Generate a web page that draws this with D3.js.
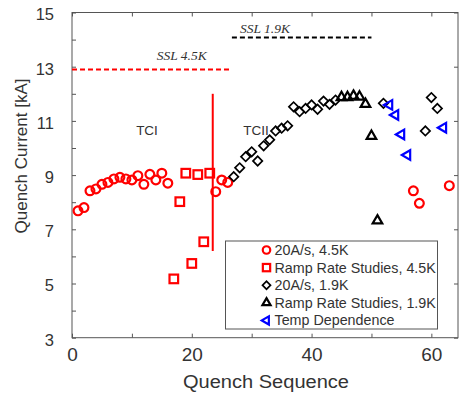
<!DOCTYPE html>
<html><head><meta charset="utf-8">
<script src="https://cdn.jsdelivr.net/npm/d3@7"></script>
<style>body{margin:0;background:#fff}svg{display:block}</style>
</head><body>
<script>
// ---- data ----
const circ45X = [1,2,3,4,5,6,7,8,9,10,11,12,13,14,15,16,24,25,26,57,58,63];
const circ45Y = [7.68,7.8,8.42,8.49,8.66,8.73,8.86,8.92,8.86,8.82,8.98,8.66,9.03,8.82,9.07,8.70,8.39,8.82,8.73,8.42,7.96,8.61];
const ramp45X = [17,18,19,20,21,22,23];
const ramp45Y = [5.17,8.02,9.07,5.74,9.02,6.54,9.07];
const diam19X = [27,28,29,30,31,32,33,34,35,36,37,38,39,40,41,42,43,44,52,59,60,61];
const diam19Y = [8.94,9.27,9.68,9.86,9.52,10.08,10.30,10.63,10.73,10.82,11.52,11.34,11.46,11.59,11.43,11.73,11.61,11.77,11.65,10.63,11.86,11.46];
const ramp19X = [45,46,47,48,49,50,51];
const ramp19Y = [11.87,11.87,11.92,11.89,11.62,10.44,7.32];
const tempX = [53,54,55,56,62];
const tempY = [11.59,11.22,10.5,9.74,10.75];
const ssl45 = {x0:0, x1:26.5, y:12.9, label:"SSL 4.5K"};
const ssl19 = {x0:26.7, x1:50, y:14.08, label:"SSL 1.9K"};
const divider = {x:23.5, y0:6.2, y1:12.0};
const xTicks = [0,10,20,30,40,50,60];
const xLabels = [0,20,40,60];
const yTicks = [3,4,5,6,7,8,9,10,11,12,13,14,15];
const yLabels = [3,5,7,9,11,13,15];
const legendNames = ["20A/s, 4.5K","Ramp Rate Studies, 4.5K","20A/s, 1.9K","Ramp Rate Studies, 1.9K","Temp Dependence"];

const W=459,H=394;
const L=72,R=458,T=12.5,B=337.7;
const svg=d3.select("body").append("svg").attr("width",W).attr("height",H);
const x=d3.scaleLinear().domain([0,64.45]).range([L,R]);
const y=d3.scaleLinear().domain([3,15]).range([B,T]);
const axisCol="#555", txtCol="#333";

// frame
svg.append("rect").attr("x",L).attr("y",T).attr("width",R-L).attr("height",B-T)
  .attr("fill","none").attr("stroke",axisCol).attr("stroke-width",1);

function styleAxis(g){g.select(".domain").remove();g.selectAll(".tick line").attr("stroke",axisCol);
  g.selectAll("text").attr("fill",txtCol).attr("font-family","Liberation Sans, Arial, sans-serif");}
svg.append("g").attr("transform",`translate(0,${B})`)
  .call(d3.axisBottom(x).tickValues(xTicks).tickSize(-4).tickPadding(10).tickFormat(d=>xLabels.includes(d)?d:""))
  .call(styleAxis).call(g=>g.selectAll("text").attr("font-size",19));
svg.append("g").attr("transform",`translate(0,${T})`)
  .call(d3.axisTop(x).tickValues(xTicks).tickSize(-4).tickFormat(""))
  .call(styleAxis);
svg.append("g").attr("transform",`translate(${L},0)`)
  .call(d3.axisLeft(y).tickValues(yTicks).tickSize(-4).tickPadding(18).tickFormat(d=>yLabels.includes(d)?d:""))
  .call(styleAxis).call(g=>g.selectAll("text").attr("font-size",16.5).attr("dy","0.45em"));
svg.append("g").attr("transform",`translate(${R},0)`)
  .call(d3.axisRight(y).tickValues(yLabels).tickSize(-4).tickFormat(""))
  .call(styleAxis);

// axis titles
svg.append("text").attr("x",266).attr("y",388).attr("text-anchor","middle")
  .attr("font-family","Liberation Sans, Arial, sans-serif").attr("font-size",18).attr("fill",txtCol)
  .attr("textLength",166).attr("lengthAdjust","spacingAndGlyphs").text("Quench Sequence");
svg.append("text").attr("transform","translate(27,156) rotate(-90)").attr("text-anchor","middle")
  .attr("font-family","Liberation Sans, Arial, sans-serif").attr("font-size",17).attr("fill",txtCol)
  .text("Quench Current [kA]");

// SSL lines
svg.append("line").attr("x1",x(ssl45.x0)).attr("x2",x(ssl45.x1)).attr("y1",y(ssl45.y)).attr("y2",y(ssl45.y))
  .attr("stroke","#f00").attr("stroke-width",2).attr("stroke-dasharray","5,3");
svg.append("line").attr("x1",x(ssl19.x0)).attr("x2",x(ssl19.x1)).attr("y1",y(ssl19.y)).attr("y2",y(ssl19.y))
  .attr("stroke","#000").attr("stroke-width",2).attr("stroke-dasharray","5,3");
svg.append("text").attr("x",x(ssl45.x1)-24).attr("y",y(ssl45.y)-9).attr("text-anchor","end")
  .attr("font-family","Liberation Serif, Times New Roman, serif").attr("font-style","italic").attr("font-size",13.5).attr("fill",txtCol).text(ssl45.label);
svg.append("text").attr("x",x(ssl19.x0)+8).attr("y",y(ssl19.y)-4)
  .attr("font-family","Liberation Serif, Times New Roman, serif").attr("font-style","italic").attr("font-size",13.5).attr("fill",txtCol).text(ssl19.label);

// divider
svg.append("line").attr("x1",x(divider.x)).attr("x2",x(divider.x)).attr("y1",y(divider.y0)).attr("y2",y(divider.y1))
  .attr("stroke","#f00").attr("stroke-width",2);
svg.append("text").attr("x",147).attr("y",135).attr("text-anchor","middle")
  .attr("font-family","Liberation Sans, Arial, sans-serif").attr("font-size",13.5).attr("fill",txtCol).text("TCI");
svg.append("text").attr("x",256).attr("y",135).attr("text-anchor","middle")
  .attr("font-family","Liberation Sans, Arial, sans-serif").attr("font-size",13.5).attr("fill",txtCol).text("TCII");

// markers
const markers = [
  {X:circ45X,Y:circ45Y,type:"circle",color:"#f00"},
  {X:ramp45X,Y:ramp45Y,type:"square",color:"#f00"},
  {X:diam19X,Y:diam19Y,type:"diamond",color:"#000"},
  {X:ramp19X,Y:ramp19Y,type:"triangle",color:"#000"},
  {X:tempX,Y:tempY,type:"left",color:"#00f"},
];
function draw(g,type,color,cx,cy,s){
  const a=g.append("g").attr("transform",`translate(${cx},${cy})`);
  const st=(el,w)=>el.attr("fill","none").attr("stroke",color).attr("stroke-width",w);
  if(type==="circle") st(a.append("circle").attr("r",4.4*s),2.2);
  else if(type==="square") st(a.append("rect").attr("x",-4.3*s).attr("y",-4.3*s).attr("width",8.6*s).attr("height",8.6*s),2.2);
  else if(type==="diamond") st(a.append("path").attr("d",d3.symbol(d3.symbolSquare,44*s*s)()).attr("transform","rotate(45)"),1.7);
  else if(type==="triangle") st(a.append("path").attr("d",d3.symbol(d3.symbolTriangle,40*s*s)()),2.2);
  else if(type==="left") st(a.append("path").attr("d",d3.symbol(d3.symbolTriangle,40*s*s)()).attr("transform","rotate(-90)"),2.2);
}
markers.forEach(m=>{
  const g=svg.append("g");
  m.X.forEach((v,i)=>draw(g,m.type,m.color,x(v),y(m.Y[i]),1));
});

// legend
const lg=svg.append("g");
lg.append("rect").attr("x",225.5).attr("y",241).attr("width",212).attr("height",88)
  .attr("fill","#fff").attr("stroke",axisCol).attr("stroke-width",1);
legendNames.forEach((n,i)=>{
  const cy=250+i*17.6;
  draw(lg,markers[i].type,markers[i].color,266.5,cy,0.85);
  lg.append("text").attr("x",274.5).attr("y",cy+5).attr("font-family","Liberation Sans, Arial, sans-serif")
    .attr("font-size",14.3).attr("fill",txtCol).text(n);
});
</script>
</body></html>
